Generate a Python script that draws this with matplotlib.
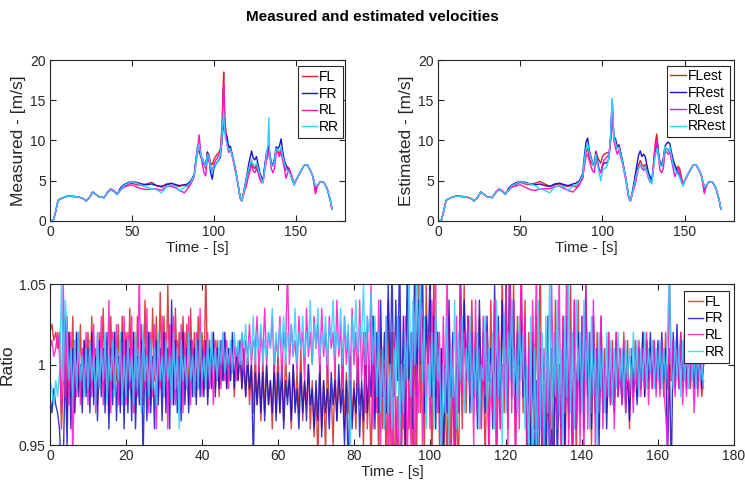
import numpy as np
import matplotlib
matplotlib.use("Agg")
import matplotlib.pyplot as plt

plt.rcParams['font.family'] = ['Liberation Sans', 'DejaVu Sans']

# ---------------- velocity data ----------------
t_vel = [0, 2, 3, 5, 8, 11, 14, 17, 20, 22,
         24, 26, 28, 30, 33, 35, 37, 39, 41, 43,
         45, 48, 50, 53, 56, 59, 62, 65, 68, 71,
         74, 77, 79, 82, 84, 86, 88, 89, 90, 91,
         92, 93, 94, 95, 96, 97, 98, 99, 100, 101,
         102, 103, 104, 105, 105.5, 106, 106.5, 107, 108, 109,
         110, 112, 114, 116, 117, 118, 120, 121, 122, 123,
         124, 125, 126, 127, 128, 129, 130, 131, 132, 133,
         133.5, 134, 135, 136, 137, 138, 139, 140, 141, 142,
         143, 144, 145, 146, 147, 148, 149, 150, 152, 155,
         157, 160, 161, 162, 163, 165, 167, 169, 171, 172]

meas_FL = [0, 0.1, 0.8, 2.6, 2.9, 3.1, 3.05, 3.0, 2.8, 2.5,
           2.9, 3.6, 3.3, 3.0, 2.9, 3.5, 3.9, 3.7, 3.3, 3.9,
           4.3, 4.6, 4.7, 4.5, 4.4, 4.6, 4.8, 4.4, 4.2, 4.6,
           4.6, 4.4, 4.3, 4.5, 4.3, 4.8, 5.6, 7.2, 8.5, 8.7,
           8.0, 7.5, 7.2, 6.5, 8.6, 8.2, 7.2, 7.0, 7.6, 8.0,
           8.3, 8.5, 9.0, 12.0, 16.0, 18.5, 14.0, 12.0, 9.8, 9.0,
           9.2, 7.4, 5.4, 2.9, 2.5, 3.3, 5.0, 6.0, 6.6, 7.2,
           6.8, 6.5, 6.9, 6.2, 5.4, 5.0, 4.9, 6.8, 8.0, 8.6,
           9.0, 8.4, 7.2, 6.8, 7.6, 8.8, 8.7, 8.4, 8.8, 7.8,
           7.0, 6.3, 6.7, 6.5, 5.8, 5.2, 4.6, 5.0, 5.8, 6.9,
           7.0, 5.8, 4.9, 3.5, 4.3, 4.9, 4.8, 4.1, 2.6, 1.5]
meas_FR = [0, 0.1, 0.8, 2.6, 2.9, 3.1, 3.05, 3.0, 2.8, 2.5,
           2.9, 3.6, 3.3, 3.0, 2.9, 3.5, 3.9, 3.7, 3.3, 4.1,
           4.5, 4.8, 4.9, 4.8, 4.6, 4.5, 4.6, 4.4, 4.3, 4.5,
           4.7, 4.5, 4.4, 4.5, 4.6, 5.0, 5.8, 7.5, 9.2, 9.0,
           8.0, 7.8, 7.0, 7.0, 8.5, 7.8, 6.0, 5.2, 6.5, 7.0,
           7.3, 7.5, 8.0, 10.0, 11.5, 12.5, 11.2, 11.0, 10.5, 9.2,
           9.3, 7.6, 5.6, 3.0, 2.5, 3.4, 5.6, 6.8, 7.8, 8.7,
           7.8, 7.6, 8.0, 7.0, 6.0, 5.5, 5.0, 6.8, 8.4, 9.0,
           9.4, 8.6, 7.2, 7.0, 7.8, 9.2, 9.0, 9.3, 10.2, 8.6,
           7.5, 7.0, 6.5, 6.2, 5.6, 5.0, 4.5, 5.0, 5.8, 6.9,
           7.0, 5.8, 5.0, 4.2, 4.4, 4.9, 4.8, 4.1, 2.6, 1.5]
meas_RL = [0, 0.1, 0.8, 2.6, 2.9, 3.1, 3.05, 3.0, 2.8, 2.5,
           2.9, 3.6, 3.3, 3.0, 2.9, 3.6, 4.0, 3.8, 3.4, 3.8,
           4.2, 4.4, 4.5, 4.2, 4.0, 3.9, 4.0, 4.0, 3.8, 4.3,
           4.3, 4.1, 3.8, 3.5, 4.0, 4.6, 5.5, 7.5, 9.0, 10.7,
           8.5, 7.0, 6.0, 5.6, 7.8, 7.5, 6.8, 6.2, 7.0, 7.5,
           7.8, 8.2, 8.6, 11.0, 15.0, 17.0, 13.0, 11.0, 9.5, 8.5,
           9.0, 7.3, 5.3, 2.8, 2.5, 3.2, 4.5, 5.5, 6.2, 7.0,
           6.2, 6.0, 6.5, 6.0, 5.2, 4.8, 4.8, 6.2, 7.5, 8.0,
           8.6, 8.2, 6.5, 6.0, 6.5, 8.5, 8.5, 8.0, 8.5, 7.5,
           6.5, 5.3, 6.0, 6.4, 5.9, 5.3, 4.6, 5.0, 5.8, 6.9,
           7.0, 5.8, 4.8, 3.4, 4.3, 4.9, 4.8, 4.1, 2.6, 1.5]
meas_RR = [0, 0.1, 0.8, 2.6, 2.9, 3.1, 3.05, 3.0, 2.8, 2.5,
           2.9, 3.6, 3.3, 3.0, 2.9, 3.5, 3.9, 3.7, 3.3, 3.9,
           4.4, 4.7, 4.9, 4.7, 4.4, 4.2, 4.0, 3.9, 3.5, 4.2,
           4.5, 4.3, 3.7, 4.2, 4.4, 4.8, 5.7, 7.0, 9.0, 9.4,
           8.2, 7.6, 7.2, 6.8, 8.3, 8.0, 6.6, 6.0, 6.8, 7.0,
           7.2, 7.6, 8.3, 10.5, 12.5, 13.3, 11.5, 10.3, 9.5, 8.8,
           9.0, 7.5, 5.5, 3.0, 2.5, 3.3, 5.4, 6.3, 7.0, 7.6,
           7.0, 6.8, 7.2, 6.5, 5.8, 5.2, 4.7, 6.5, 8.2, 9.5,
           12.8, 8.5, 7.0, 6.8, 7.5, 9.0, 8.8, 8.6, 9.2, 8.0,
           7.2, 6.6, 6.3, 6.0, 5.6, 5.1, 4.4, 5.0, 5.8, 6.9,
           7.0, 5.8, 5.0, 4.3, 4.4, 4.9, 4.8, 4.1, 2.6, 1.5]

est_FL = [0, 0.1, 0.8, 2.6, 2.9, 3.1, 3.05, 3.0, 2.8, 2.5,
          2.9, 3.6, 3.3, 3.0, 2.9, 3.5, 3.9, 3.7, 3.3, 3.9,
          4.3, 4.6, 4.8, 4.6, 4.5, 4.7, 4.9, 4.6, 4.3, 4.5,
          4.6, 4.4, 4.3, 4.4, 4.2, 4.6, 5.4, 7.0, 8.6, 9.0,
          7.8, 7.3, 7.0, 6.8, 8.7, 8.0, 7.5, 7.2, 8.0, 8.3,
          8.4, 8.5, 8.4, 10.0, 12.0, 13.5, 11.5, 10.0, 9.8, 9.0,
          9.5, 7.6, 5.5, 3.0, 2.5, 3.3, 5.2, 6.2, 7.0, 7.5,
          7.0, 6.8, 7.0, 6.4, 5.6, 5.0, 4.9, 7.0, 9.5, 10.8,
          9.8, 8.5, 7.2, 6.8, 7.2, 8.8, 9.0, 8.8, 8.8, 8.0,
          7.3, 6.6, 6.3, 6.8, 6.5, 5.5, 4.5, 5.0, 5.8, 6.9,
          7.0, 5.8, 4.8, 3.6, 4.3, 4.9, 4.8, 4.1, 2.6, 1.5]
est_FR = [0, 0.1, 0.8, 2.6, 2.9, 3.1, 3.05, 3.0, 2.8, 2.5,
          2.9, 3.6, 3.3, 3.0, 2.9, 3.5, 3.9, 3.7, 3.3, 4.1,
          4.5, 4.8, 4.9, 4.8, 4.6, 4.5, 4.6, 4.4, 4.3, 4.6,
          4.7, 4.5, 4.4, 4.6, 4.7, 5.0, 5.9, 8.0, 9.8, 10.3,
          8.8, 8.0, 7.3, 7.0, 8.4, 7.5, 6.3, 6.0, 6.8, 7.2,
          7.2, 7.3, 7.8, 10.5, 13.0, 14.8, 12.0, 10.5, 10.2, 9.2,
          9.4, 7.7, 5.6, 3.0, 2.5, 3.4, 5.8, 7.0, 8.2, 8.7,
          8.0, 8.3, 8.0, 7.0, 6.0, 5.5, 5.0, 6.5, 8.5, 9.5,
          9.6, 8.6, 7.2, 7.0, 7.8, 9.3, 9.6, 9.8, 9.6, 8.5,
          7.6, 7.0, 6.5, 6.0, 5.5, 5.0, 4.5, 5.0, 5.8, 6.9,
          7.0, 5.8, 5.0, 4.2, 4.4, 4.9, 4.8, 4.1, 2.6, 1.5]
est_RL = [0, 0.1, 0.8, 2.6, 2.9, 3.1, 3.05, 3.0, 2.8, 2.5,
          2.9, 3.6, 3.3, 3.0, 2.9, 3.6, 4.0, 3.8, 3.4, 3.8,
          4.2, 4.4, 4.5, 4.2, 3.9, 3.8, 4.0, 4.0, 4.0, 4.3,
          4.3, 4.0, 3.8, 3.6, 4.0, 4.5, 5.3, 6.8, 8.0, 8.3,
          7.5, 6.8, 6.2, 6.0, 7.5, 7.0, 6.5, 6.0, 7.0, 7.6,
          7.8, 8.0, 8.3, 10.5, 13.0, 14.5, 12.0, 10.0, 9.0, 8.3,
          8.8, 7.3, 5.3, 2.8, 2.5, 3.2, 4.6, 5.6, 6.6, 7.0,
          6.5, 6.3, 6.6, 6.0, 5.3, 4.8, 4.8, 7.0, 9.0, 10.0,
          9.0, 8.0, 6.3, 6.0, 6.5, 8.5, 8.6, 8.3, 8.5, 7.5,
          6.5, 5.5, 6.0, 6.5, 6.0, 5.2, 4.5, 5.0, 5.8, 6.9,
          7.0, 5.8, 4.7, 3.4, 4.3, 4.9, 4.8, 4.1, 2.6, 1.5]
est_RR = [0, 0.1, 0.8, 2.6, 2.9, 3.1, 3.05, 3.0, 2.8, 2.5,
          2.9, 3.6, 3.3, 3.0, 2.9, 3.5, 3.9, 3.7, 3.3, 3.9,
          4.4, 4.7, 4.9, 4.7, 4.6, 4.4, 4.0, 3.8, 3.5, 4.2,
          4.4, 4.2, 3.8, 4.3, 4.5, 4.8, 5.7, 7.5, 9.0, 9.6,
          8.5, 7.8, 7.2, 6.8, 8.3, 7.0, 6.0, 5.0, 6.2, 6.5,
          6.6, 7.0, 8.0, 11.0, 13.5, 15.2, 12.5, 10.5, 9.6, 9.0,
          9.2, 7.5, 5.5, 3.0, 2.5, 3.3, 5.2, 6.0, 6.5, 7.0,
          6.8, 6.5, 6.8, 6.2, 5.5, 5.0, 4.6, 6.5, 8.0, 8.8,
          9.0, 8.2, 7.0, 6.8, 7.5, 9.3, 9.0, 8.6, 9.2, 8.0,
          7.0, 6.5, 6.0, 5.8, 5.4, 4.8, 4.3, 5.0, 5.8, 6.9,
          7.0, 5.8, 5.0, 4.2, 4.4, 4.9, 4.8, 4.1, 2.6, 1.5]

# ---------------- ratio data (sampled every 0.5 s, 0 .. 172 s) ----------------
t_ratio = np.arange(0, 172.25, 0.5)

ratio_FL = [
    1.02, 1.025, 1.015, 1.02, 1.01, 1.02, 0.96, 0.99, 1.03, 0.97, 1.02, 0.98, 1.03, 0.97, 1.02, 0.985, 1.025, 0.98, 1.015, 0.99,
    1.02, 0.985, 1.03, 0.98, 1.01, 0.975, 1.02, 0.99, 1.035, 0.98, 1.015, 0.97, 1.03, 0.985, 1.02, 0.99, 1.025, 0.975, 1.03, 0.98,
    1.02, 0.985, 1.035, 0.98, 1.02, 0.97, 1.03, 0.99, 1.025, 0.975, 1.04, 0.985, 1.02, 0.975, 1.035, 0.99, 1.03, 0.98, 1.045, 0.985,
    1.03, 0.98, 1.05, 0.985, 1.025, 0.975, 1.035, 0.99, 1.02, 0.98, 1.03, 0.985, 1.025, 0.975, 1.035, 0.99, 1.02, 0.98, 1.03, 0.99,
    1.02, 0.985, 1.06, 0.98, 1.015, 0.99, 1.02, 0.985, 1.015, 0.98, 1.01, 0.99, 1.015, 0.985, 1.01, 0.99, 1.015, 0.98, 1.01, 0.99,
    1.005, 0.985, 1.0, 0.98, 1.005, 0.975, 1.0, 0.97, 1.01, 0.975, 0.995, 0.965, 1.005, 0.97, 1.0, 0.975, 0.99, 0.96, 1.0, 0.97,
    1.01, 0.97, 0.995, 0.965, 1.005, 0.98, 0.99, 0.96, 1.0, 0.975, 0.995, 0.97, 1.01, 0.965, 0.99, 0.975, 1.0, 0.96, 0.99, 0.955,
    0.985, 0.94, 1.0, 0.96, 0.99, 0.945, 1.005, 0.97, 0.985, 0.95, 1.0, 0.965, 0.99, 0.975, 1.01, 0.96, 0.995, 0.97, 1.005, 0.965,
    0.99, 0.96, 1.01, 0.975, 0.985, 0.95, 1.02, 0.96, 0.995, 0.93, 1.03, 0.97, 1.01, 0.94, 1.02, 0.96, 1.0, 0.93, 1.04, 0.95,
    1.02, 0.92, 0.98, 0.93, 1.03, 0.94, 1.0, 0.92, 1.04, 0.96, 0.99, 0.93, 1.02, 0.95, 1.06, 0.97, 1.03, 0.94, 1.05, 0.99,
    1.04, 0.93, 1.06, 0.98, 1.02, 0.95, 1.01, 0.92, 0.99, 0.93, 1.03, 0.94, 1.0, 0.92, 0.98, 0.93, 1.02, 0.96, 1.05, 0.97,
    1.03, 0.98, 1.04, 0.99, 1.02, 0.97, 1.03, 0.96, 1.01, 0.94, 1.0, 0.95, 1.04, 0.97, 1.02, 0.93, 1.0, 0.96, 1.06, 0.97,
    1.04, 0.96, 1.06, 0.98, 1.05, 0.95, 1.03, 0.99, 1.06, 0.97, 1.04, 0.93, 1.02, 0.95, 1.01, 0.96, 1.03, 0.97, 1.07, 0.94,
    1.0, 0.95, 1.03, 0.96, 1.01, 0.94, 1.04, 0.97, 1.0, 0.95, 1.03, 0.93, 1.01, 0.96, 1.05, 0.95, 1.02, 0.94, 1.04, 0.97,
    1.02, 0.96, 1.04, 0.98, 1.01, 0.95, 1.03, 0.97, 1.02, 0.96, 1.03, 0.98, 1.01, 0.97, 1.02, 0.98, 1.015, 0.975, 1.02, 0.985,
    1.01, 0.98, 1.02, 0.975, 1.015, 0.96, 1.01, 0.985, 1.015, 0.98, 1.01, 0.985, 1.02, 0.98, 1.015, 0.985, 1.01, 0.99, 1.015, 0.985,
    1.01, 0.99, 1.015, 0.98, 1.02, 0.985, 1.01, 0.99, 1.015, 0.985, 1.01, 0.99, 1.02, 0.985, 1.01, 0.99, 1.015, 0.985, 1.01, 0.99,
    1.01, 0.985, 1.005, 0.98, 0.99]

ratio_FR = [
    0.98, 0.97, 0.985, 0.975, 0.97, 0.96, 0.93, 0.94, 1.0, 0.95, 1.02, 0.96, 1.01, 0.97, 1.02, 0.98, 1.0, 0.97, 1.015, 0.98,
    1.01, 0.97, 1.02, 0.975, 1.005, 0.965, 1.015, 0.98, 1.01, 0.97, 1.02, 0.96, 1.01, 0.975, 1.02, 0.965, 1.005, 0.97, 1.02, 0.96,
    1.015, 0.97, 1.01, 0.965, 1.02, 0.96, 1.005, 0.975, 1.015, 0.94, 1.01, 0.965, 1.02, 0.97, 1.005, 0.96, 1.015, 0.975, 1.01, 0.965,
    1.02, 0.97, 1.01, 0.96, 1.04, 0.975, 1.015, 0.97, 1.005, 0.965, 1.02, 0.975, 1.01, 0.97, 1.015, 0.98, 1.01, 0.975, 1.015, 0.98,
    1.01, 0.98, 1.015, 0.975, 1.01, 0.985, 1.02, 0.98, 1.01, 0.985, 1.015, 0.99, 1.02, 0.985, 1.01, 0.99, 1.02, 0.985, 1.01, 0.99,
    1.015, 0.985, 1.01, 0.98, 1.005, 0.985, 1.0, 0.94, 0.995, 0.975, 1.0, 0.97, 0.995, 0.965, 1.0, 0.975, 0.99, 0.97, 1.0, 0.965,
    0.995, 0.97, 1.0, 0.96, 0.99, 0.975, 0.995, 0.965, 1.0, 0.97, 0.985, 0.96, 0.995, 0.97, 0.99, 0.965, 1.0, 0.975, 0.985, 0.96,
    0.99, 0.965, 1.0, 0.955, 0.99, 0.97, 0.985, 0.96, 0.995, 0.975, 0.99, 0.965, 1.0, 0.97, 0.985, 0.95, 0.99, 0.93, 1.0, 0.96,
    0.985, 0.97, 1.0, 0.955, 0.99, 0.965, 1.01, 0.97, 1.0, 0.98, 1.03, 0.96, 1.02, 0.97, 1.04, 0.98, 1.02, 0.97, 1.05, 0.99,
    1.06, 0.98, 1.04, 0.99, 1.07, 0.97, 1.03, 0.95, 1.06, 0.99, 1.02, 0.96, 1.08, 0.98, 1.04, 1.0, 1.07, 0.97, 1.03, 1.0,
    1.06, 0.98, 1.03, 0.96, 1.02, 0.97, 1.01, 0.94, 1.0, 0.97, 1.04, 0.98, 1.02, 0.95, 1.0, 0.97, 1.06, 1.0, 1.04, 0.99,
    1.03, 0.97, 1.02, 0.98, 1.01, 0.96, 1.04, 0.98, 1.02, 0.97, 1.03, 0.99, 1.01, 0.96, 1.05, 0.98, 1.03, 0.97, 1.04, 0.99,
    1.05, 0.98, 1.07, 0.99, 1.04, 0.97, 1.02, 1.0, 1.03, 0.98, 1.01, 0.95, 1.0, 0.93, 1.02, 0.92, 0.99, 0.91, 1.01, 0.93,
    0.98, 0.92, 1.0, 0.93, 0.97, 0.91, 1.01, 0.94, 0.99, 0.96, 1.02, 0.95, 1.03, 0.97, 1.01, 0.94, 1.04, 0.96, 1.02, 0.97,
    1.03, 0.96, 1.05, 0.98, 1.02, 0.96, 1.03, 0.97, 1.01, 0.95, 1.02, 0.97, 1.0, 0.96, 1.01, 0.975, 1.0, 0.97, 1.015, 0.98,
    1.0, 0.975, 1.01, 0.97, 0.995, 0.965, 1.005, 0.98, 1.0, 0.975, 1.01, 0.985, 1.02, 0.98, 1.015, 0.99, 1.02, 0.985, 1.01, 0.99,
    1.015, 0.985, 1.02, 0.99, 1.01, 0.94, 1.0, 0.93, 1.02, 0.99, 1.025, 0.985, 1.015, 0.99, 1.02, 0.985, 1.01, 0.99, 1.015, 0.985,
    1.005, 0.99, 1.01, 0.985, 1.0]

ratio_RL = [
    1.01, 1.015, 1.005, 1.01, 1.02, 1.005, 0.97, 1.05, 0.98, 1.03, 0.975, 1.02, 0.94, 1.015, 0.98, 1.02, 0.975, 1.01, 0.985, 1.02,
    0.975, 1.015, 0.98, 1.025, 0.97, 1.02, 0.985, 1.03, 0.975, 1.01, 0.98, 1.04, 0.97, 1.02, 0.985, 1.025, 0.975, 1.015, 0.98, 1.03,
    0.975, 1.02, 0.985, 1.03, 0.97, 1.015, 0.98, 1.06, 0.975, 1.02, 0.985, 1.035, 0.97, 1.02, 0.98, 1.025, 0.96, 1.015, 0.985, 1.03,
    0.98, 1.02, 0.96, 1.025, 0.985, 1.03, 0.975, 1.015, 0.98, 1.025, 0.97, 1.02, 0.985, 1.03, 0.975, 1.015, 0.98, 1.02, 0.985, 1.035,
    0.98, 1.015, 0.99, 1.02, 0.985, 1.01, 0.975, 1.015, 0.99, 1.01, 0.985, 1.02, 0.99, 1.015, 0.985, 1.01, 0.995, 1.015, 0.99, 1.01,
    1.0, 1.02, 0.995, 1.015, 1.005, 1.025, 1.0, 1.015, 1.01, 1.03, 0.995, 1.02, 1.005, 1.035, 1.0, 1.02, 1.01, 1.03, 0.995, 1.015,
    1.005, 1.03, 0.99, 1.02, 1.01, 1.06, 1.0, 1.025, 1.005, 1.015, 0.995, 1.03, 1.01, 1.02, 0.99, 1.035, 1.005, 1.02, 1.0, 1.03,
    1.01, 1.025, 0.995, 1.035, 1.005, 1.02, 0.99, 1.03, 1.01, 1.02, 0.995, 1.04, 1.005, 1.025, 0.985, 1.03, 1.0, 1.02, 0.99, 1.035,
    1.0, 1.02, 0.985, 1.04, 0.99, 1.02, 0.97, 1.03, 0.98, 1.05, 0.96, 1.02, 0.97, 1.04, 0.95, 1.01, 0.96, 1.03, 0.94, 1.0,
    0.93, 1.02, 0.95, 0.98, 0.92, 1.0, 0.96, 1.03, 0.94, 0.99, 0.95, 1.02, 0.93, 1.0, 0.97, 1.04, 0.95, 1.01, 0.98, 1.02,
    0.96, 1.04, 0.99, 1.05, 0.97, 1.02, 0.95, 1.03, 0.98, 1.06, 0.96, 0.93, 1.01, 0.94, 1.03, 0.97, 1.05, 0.98, 1.02, 0.99,
    1.03, 0.98, 1.02, 0.95, 1.04, 0.97, 1.01, 0.96, 1.03, 0.98, 1.02, 0.94, 1.0, 0.97, 1.04, 0.95, 1.02, 0.96, 1.0, 0.98,
    1.05, 0.95, 1.07, 0.97, 1.04, 0.93, 1.02, 0.96, 1.06, 0.99, 1.03, 0.95, 1.01, 0.97, 1.04, 0.99, 1.06, 0.96, 1.02, 0.95,
    1.01, 0.97, 1.03, 0.95, 1.05, 0.98, 1.02, 0.96, 1.06, 0.94, 1.03, 0.97, 1.07, 0.95, 1.02, 0.93, 1.04, 0.96, 1.01, 0.95,
    1.03, 0.94, 1.05, 0.96, 1.02, 0.97, 1.04, 0.95, 1.01, 0.97, 1.03, 0.96, 1.0, 0.98, 1.02, 0.975, 1.01, 0.96, 1.02, 0.98,
    1.01, 0.975, 1.015, 0.97, 1.005, 0.98, 1.0, 0.97, 1.01, 0.985, 1.015, 0.98, 1.01, 0.985, 1.02, 0.975, 1.005, 0.985, 1.015, 0.98,
    1.01, 0.98, 1.015, 0.985, 0.97, 0.95, 1.06, 0.99, 1.015, 0.98, 1.01, 0.985, 1.02, 0.975, 1.005, 0.98, 1.015, 0.985, 1.01, 0.97,
    1.0, 0.98, 1.01, 0.99, 1.0]

ratio_RR = [
    0.99, 0.985, 0.975, 0.99, 0.98, 0.995, 1.05, 0.99, 1.04, 1.02, 0.99, 1.01, 0.98, 1.015, 0.985, 1.02, 0.99, 1.005, 0.98, 1.01,
    0.985, 1.015, 0.99, 1.005, 0.975, 1.02, 0.985, 1.01, 0.99, 1.02, 0.975, 1.005, 0.99, 1.015, 0.98, 1.01, 0.99, 1.02, 0.975, 1.005,
    0.98, 1.015, 0.99, 1.005, 0.975, 1.02, 0.985, 1.01, 0.97, 1.025, 0.99, 1.005, 0.98, 1.015, 0.985, 1.01, 0.975, 1.02, 0.99, 1.005,
    0.98, 1.015, 0.99, 1.005, 0.975, 1.02, 0.985, 1.01, 0.96, 1.015, 0.99, 1.005, 0.985, 1.02, 0.99, 1.005, 0.98, 1.015, 0.985, 1.02,
    0.99, 1.005, 0.985, 1.015, 0.99, 1.02, 0.995, 1.01, 0.99, 1.015, 1.0, 1.02, 0.995, 1.01, 1.0, 1.015, 0.995, 1.02, 1.005, 1.015,
    1.0, 1.02, 1.01, 1.025, 1.0, 1.015, 1.005, 1.03, 1.0, 1.02, 1.01, 1.025, 1.0, 1.015, 1.005, 1.02, 1.01, 1.035, 1.0, 1.02,
    1.005, 1.025, 1.01, 1.03, 1.0, 1.02, 1.01, 1.025, 1.005, 1.035, 1.0, 1.02, 1.01, 1.03, 1.005, 1.02, 1.01, 1.04, 1.0, 1.025,
    1.01, 1.035, 1.005, 1.02, 1.01, 1.03, 1.0, 1.025, 1.015, 1.04, 1.005, 1.02, 1.01, 1.035, 1.0, 1.03, 1.01, 1.025, 0.94, 1.03,
    1.01, 1.04, 1.005, 1.025, 1.015, 1.05, 1.0, 1.03, 1.02, 1.045, 1.0, 1.03, 0.98, 1.02, 0.97, 1.01, 0.96, 1.03, 0.97, 1.0,
    0.96, 1.01, 0.98, 1.03, 0.95, 1.0, 0.97, 1.02, 0.99, 1.06, 0.98, 1.04, 1.0, 1.07, 1.01, 1.05, 0.99, 1.03, 0.96, 1.0,
    0.98, 1.02, 0.96, 1.04, 0.99, 1.01, 0.94, 1.0, 0.97, 1.03, 0.95, 1.01, 0.98, 1.04, 0.96, 1.02, 0.99, 1.03, 0.97, 1.01,
    0.99, 1.03, 0.97, 1.01, 0.98, 1.02, 0.96, 1.0, 0.99, 1.03, 0.97, 1.01, 0.98, 1.02, 0.96, 1.04, 0.98, 1.01, 0.95, 1.03,
    0.97, 1.02, 0.99, 1.04, 0.98, 1.01, 0.97, 1.03, 0.99, 1.02, 0.96, 1.0, 0.94, 1.03, 0.92, 1.01, 0.94, 1.04, 0.96, 1.02,
    0.95, 1.03, 0.97, 1.06, 0.96, 1.02, 0.98, 1.04, 0.97, 1.01, 0.95, 1.03, 0.98, 1.05, 0.97, 1.02, 0.96, 1.04, 0.99, 1.02,
    0.97, 1.04, 0.99, 1.02, 0.96, 1.03, 0.98, 1.01, 0.95, 1.02, 0.985, 1.01, 0.97, 1.02, 0.98, 1.015, 0.975, 1.01, 0.985, 1.02,
    0.99, 1.01, 0.98, 1.015, 0.99, 1.01, 0.985, 1.02, 0.99, 1.015, 0.98, 1.01, 0.99, 1.02, 0.985, 1.01, 0.995, 1.015, 0.985, 1.01,
    0.99, 1.015, 0.985, 1.01, 0.99, 1.02, 1.06, 1.0, 0.985, 1.015, 0.99, 1.01, 0.98, 1.015, 0.99, 1.01, 0.985, 1.015, 0.99, 1.005,
    0.985, 1.01, 0.99, 1.0, 0.985]

labels_meas = ["FL", "FR", "RL", "RR"]
labels_est = ["FLest", "FRest", "RLest", "RRest"]
labels_ratio = ["FL", "FR", "RL", "RR"]
colors = ["#d42424", "#1414c8", "#ff14c8", "#33ccff"]

W, H = 745, 486
fig = plt.figure(figsize=(W / 100, H / 100), dpi=100)
fig.patch.set_facecolor("white")

def px_axes(left, top, right, bottom):
    return fig.add_axes([left / W, 1 - bottom / H, (right - left) / W, (bottom - top) / H])

edge = "#262626"

def style(ax):
    for s in ax.spines.values():
        s.set_color(edge)
        s.set_linewidth(0.8)
    ax.tick_params(direction="in", length=4, width=0.8, colors=edge,
                   labelsize=10, top=True, right=True, labelcolor="#262626", pad=3)

def legend(ax, labels, bbox):
    leg = ax.legend(labels, loc="upper right", bbox_to_anchor=bbox, fontsize=10,
                    fancybox=False, framealpha=1, edgecolor=edge, borderpad=0.25,
                    labelspacing=0.2, handlelength=1.1, handletextpad=0.15,
                    borderaxespad=0.0)
    leg.get_frame().set_linewidth(0.8)
    return leg

YL = 12.5
XL = 11

# Top-left: measured
ax1 = px_axes(50, 60, 345, 221)
for y, c in zip([meas_FL, meas_FR, meas_RL, meas_RR], colors):
    ax1.plot(t_vel, y, color=c, lw=1.0)
ax1.set_xlim(0, 180)
ax1.set_ylim(0, 20)
ax1.set_xticks([0, 50, 100, 150])
ax1.set_yticks([0, 5, 10, 15, 20])
ax1.set_xlabel("Time - [s]", fontsize=XL, color="#262626", labelpad=1)
ax1.set_ylabel("Measured - [m/s]", fontsize=YL, color="#262626", labelpad=3)
style(ax1)
legend(ax1, labels_meas, (0.992, 0.96))

# Top-right: estimated
ax2 = px_axes(438, 60, 734, 221)
for y, c in zip([est_FL, est_FR, est_RL, est_RR], colors):
    ax2.plot(t_vel, y, color=c, lw=1.0)
ax2.set_xlim(0, 180)
ax2.set_ylim(0, 20)
ax2.set_xticks([0, 50, 100, 150])
ax2.set_yticks([0, 5, 10, 15, 20])
ax2.set_xlabel("Time - [s]", fontsize=XL, color="#262626", labelpad=1)
ax2.set_ylabel("Estimated - [m/s]", fontsize=YL, color="#262626", labelpad=3)
style(ax2)
legend(ax2, labels_est, (0.985, 0.965))

# Bottom: ratio
ax3 = px_axes(50, 284, 734, 445)
for y, c in zip([ratio_FL, ratio_FR, ratio_RL, ratio_RR], colors):
    ax3.plot(t_ratio, y, color=c, lw=1.0, alpha=0.85)
ax3.set_xlim(0, 180)
ax3.set_ylim(0.95, 1.05)
ax3.set_xticks(np.arange(0, 181, 20))
ax3.set_yticks([0.95, 1.0, 1.05])
ax3.set_yticklabels(["0.95", "1", "1.05"])
ax3.set_xlabel("Time - [s]", fontsize=XL, color="#262626", labelpad=1)
ax3.set_ylabel("Ratio", fontsize=YL, color="#262626", labelpad=3)
style(ax3)
legend(ax3, labels_ratio, (0.992, 0.955))

fig.text(0.5, 1 - 17 / H, "Measured and estimated velocities", ha="center", va="center",
         fontsize=11, fontweight="bold", color="black")

fig.savefig("out.png", dpi=100, facecolor="white")
